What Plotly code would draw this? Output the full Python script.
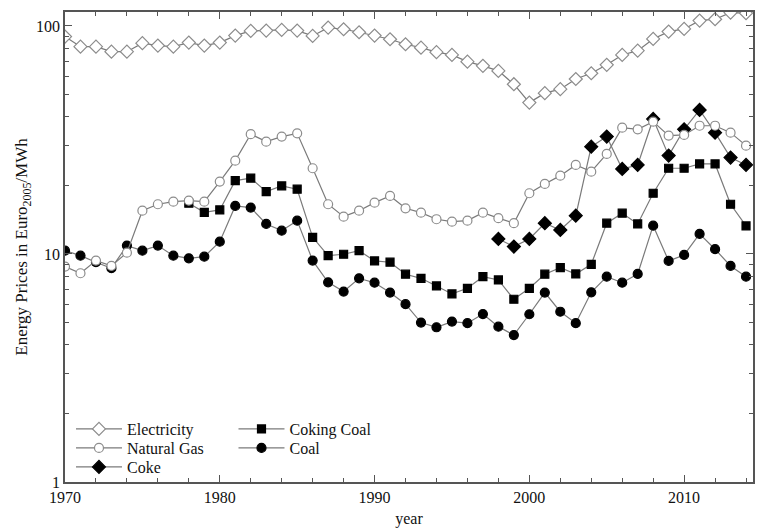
import plotly.graph_objects as go

years = list(range(1970, 2015))

electricity = [89.8, 81.1, 81.1, 77.1, 77.1, 84.0, 82.0, 81.1, 84.5, 82.0,
               84.5, 90.7, 95.1, 95.4, 96.0, 95.4, 90.4, 98.3, 96.7, 93.8,
               90.7, 87.4, 83.1, 80.3, 76.7, 74.6, 69.7, 66.8, 63.5, 55.5,
               46.1, 50.7, 52.8, 58.5, 62.0, 67.5, 74.6, 77.9, 87.7, 94.4,
               97.0, 105.5, 107.0, 114.4, 113.7]

natural_gas = [8.80, 8.23, 9.35, 8.86, 10.13, 15.48, 16.52, 16.96, 17.13, 16.96,
               20.76, 25.66, 33.5, 31.08, 32.7, 33.8, 23.76, 16.52, 14.57, 15.48,
               16.79, 17.96, 15.86, 15.17, 14.2, 13.86, 14.0, 15.17, 14.35, 13.64,
               18.46, 20.28, 22.05, 24.57, 22.96, 27.46, 35.8, 35.2, 38.04, 33.04,
               33.27, 36.5, 36.5, 34.04, 29.85]

coke_years = list(range(1998, 2015))
coke = [11.64, 10.77, 11.64, 13.64, 12.74, 14.72, 29.55, 32.7, 23.59, 24.57,
        39.08, 26.99, 35.2, 42.8, 34.04, 26.45, 24.57]

coking_years = list(range(1978, 2015))
coking_coal = [16.69, 15.23, 15.6, 20.97, 21.5, 18.76, 19.88, 19.23, 11.83, 9.83,
               9.97, 10.34, 9.32, 9.20, 8.15, 7.82, 7.24, 6.68, 7.07, 7.95,
               7.69, 6.33, 7.07, 8.15, 8.71, 8.17, 9.01, 13.64, 15.09, 13.54,
               18.46, 23.76, 23.76, 24.82, 24.82, 16.52, 13.27]

coal = [10.34, 9.83, 9.20, 8.66, 10.88, 10.34, 10.88, 9.83, 9.57, 9.73,
        11.32, 16.24, 15.97, 13.54, 12.65, 14.0, 9.35, 7.51, 6.84, 7.82,
        7.48, 6.77, 6.02, 5.00, 4.77, 5.05, 4.97, 5.45, 4.80, 4.41,
        5.44, 6.77, 5.58, 4.97, 6.79, 7.95, 7.48, 8.17, 13.31, 9.32,
        9.90, 12.24, 10.49, 8.86, 7.95]

x_major = [1970, 1980, 1990, 2000, 2010]
y_major = [1, 10, 100]
y_major_text = ["1", "10", "100"]
y_minor = [2, 3, 4, 5, 6, 7, 8, 9, 20, 30, 40, 50, 60, 70, 80, 90]

LINE = "#7a7a7a"
EDGE = "#8c8c8c"
AX = "#555555"
FONT = "'Liberation Serif', 'Times New Roman', Times, serif"
FS = 16

fig = go.Figure()

def add(name, xs, ys, symbol, size, fill, edge, legend):
    fig.add_trace(go.Scatter(
        x=xs, y=ys, name=name, mode="lines+markers",
        line=dict(color=LINE, width=1.2),
        marker=dict(symbol=symbol, size=size, color=fill,
                    line=dict(color=edge, width=1.2)),
        legend=legend, cliponaxis=True,
    ))

add("Coke", coke_years, coke, "diamond", 10, "black", "black", "legend3")
add("Coking Coal", coking_years, coking_coal, "square", 8, "black", "black", "legend4")
add("Coal", years, coal, "circle", 9, "black", "black", "legend5")
add("Electricity", years, electricity, "diamond", 10, "white", EDGE, "legend")
add("Natural Gas", years, natural_gas, "circle", 9, "white", EDGE, "legend2")

axis_common = dict(
    showline=True, linecolor=AX, linewidth=1.5, mirror="ticks",
    ticks="inside", ticklen=7, tickwidth=1, tickcolor=AX,
    showgrid=False, zeroline=False,
    tickfont=dict(family=FONT, size=FS, color="#111111"),
)

def leg(x, y):
    return dict(x=x, y=y, xanchor="left", yanchor="middle",
                bgcolor="rgba(0,0,0,0)", font=dict(family=FONT, size=FS, color="#111111"),
                itemwidth=46, borderwidth=0)

col1, col2 = 0.0087, 0.2449
row1, row2, row3 = 0.1128, 0.0723, 0.0319

fig.update_layout(
    width=765, height=528,
    margin=dict(l=65, r=10, t=12, b=46),
    paper_bgcolor="white", plot_bgcolor="white",
    font=dict(family=FONT, size=FS, color="#111111"),
    xaxis=dict(
        range=[1970, 2014.45], tickmode="array", tickvals=x_major,
        automargin=False,
        title=dict(text="year", font=dict(family=FONT, size=FS)),
        minor=dict(dtick=2, tick0=1970, ticks="inside", ticklen=4,
                   tickcolor=AX, showgrid=False),
        **axis_common,
    ),
    yaxis=dict(
        type="log", range=[0, 2.061], tickmode="array",
        tickvals=y_major, ticktext=y_major_text,
        title=dict(text="Energy Prices in Euro<sub>2005</sub>/MWh",
                   font=dict(family=FONT, size=17), standoff=4),
        minor=dict(tickmode="array", tickvals=y_minor, ticks="inside",
                   ticklen=4, tickcolor=AX, showgrid=False),
        **axis_common,
    ),
    legend=leg(col1, row1),
    legend2=leg(col1, row2),
    legend3=leg(col1, row3),
    legend4=leg(col2, row1),
    legend5=leg(col2, row2),
    showlegend=True,
)

fig.write_html("out.html")
